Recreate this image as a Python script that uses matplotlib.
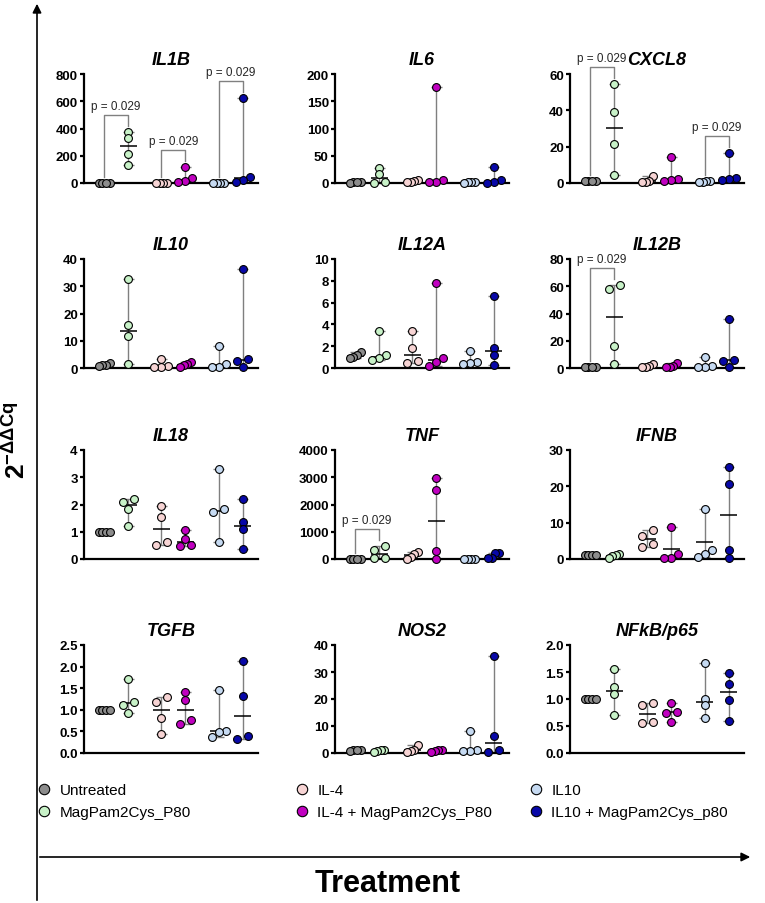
import numpy as np
import matplotlib
matplotlib.use("Agg")
import matplotlib.pyplot as plt
from matplotlib.lines import Line2D

plt.rcParams['font.family'] = ['Liberation Sans', 'DejaVu Sans']
plt.rcParams['mathtext.fontset'] = 'custom'
plt.rcParams['mathtext.rm'] = 'Liberation Sans'
plt.rcParams['mathtext.bf'] = 'Liberation Sans:bold'
plt.rcParams['mathtext.it'] = 'Liberation Sans:italic'

# groups and colours
groups = ["Untreated", "MagPam2Cys_P80", "IL-4", "IL-4 + MagPam2Cys_P80",
          "IL10", "IL10 + MagPam2Cys_p80"]
colors = ["#8c8c8c", "#c8f2c8", "#f7d4d4", "#c000c0", "#c6daf2", "#0808a8"]

genes = ["IL1B", "IL6", "CXCL8", "IL10", "IL12A", "IL12B",
         "IL18", "TNF", "IFNB", "TGFB", "NOS2", "NFkB/p65"]

# 2^-ddCq values, 4 replicates per group
il1b = [[1.2, 0.9, 1.0, 1.1], [372, 328, 213, 132], [2.5, 1.5, 1.2, 1.0],
        [115, 35, 15, 8], [2.0, 1.5, 1.0, 0.8], [623, 46, 22, 8]]
il6 = [[1.0, 1.1, 0.9, 1.0], [27, 16, 1.5, 0.8], [5, 3, 2, 1],
       [176, 5.5, 2.5, 1.5], [2.0, 1.5, 1.0, 0.8], [30, 6, 1.5, 0.5]]
cxcl8 = [[1.0, 1.1, 0.9, 1.0], [54.7, 39, 21.2, 4.4], [4.0, 1.2, 0.6, 0.4],
         [14.4, 2.0, 1.5, 1.2], [1.2, 1.0, 0.8, 0.5], [16.4, 2.5, 2.2, 1.8]]
il10 = [[1.7, 1.2, 1.0, 0.9], [32.6, 15.9, 11.6, 1.5], [3.3, 0.8, 0.5, 0.4],
        [2.2, 1.5, 1.0, 0.5], [8.0, 1.4, 0.5, 0.3], [36.2, 3.3, 2.5, 0.2]]
il12a = [[1.45, 1.2, 1.05, 0.95], [3.38, 1.16, 0.9, 0.76], [3.35, 1.86, 0.6, 0.43],
         [7.83, 0.94, 0.52, 0.18], [1.6, 0.55, 0.45, 0.35], [6.65, 1.86, 1.19, 0.24]]
il12b = [[1.0, 1.1, 0.9, 1.0], [60.7, 58.3, 16.1, 3.2], [3.0, 1.2, 0.8, 0.5],
         [3.4, 1.5, 1.0, 0.6], [8.0, 1.2, 1.0, 0.6], [36.1, 6.1, 5.0, 0.4]]
il18 = [[1.0, 1.0, 1.0, 1.0], [2.19, 2.1, 1.85, 1.2], [1.93, 1.55, 0.63, 0.51],
        [1.06, 0.74, 0.51, 0.49], [3.31, 1.82, 1.73, 0.63], [2.22, 1.35, 1.1, 0.35]]
tnf = [[1, 2, 1, 1], [470, 330, 40, 20], [250, 180, 80, 10],
       [2960, 2530, 280, 10], [5, 3, 2, 1], [215, 205, 40, 30]]
ifnb = [[1.0, 1.0, 1.0, 1.0], [1.4, 1.0, 0.9, 0.2], [7.9, 6.4, 4.1, 3.2],
        [8.8, 1.5, 0.3, 0.3], [13.8, 2.5, 1.45, 0.5], [25.2, 20.6, 2.45, 0.2]]
tgfb = [[1.0, 1.0, 1.0, 1.0], [1.71, 1.18, 1.12, 0.92], [1.29, 1.19, 0.81, 0.44],
        [1.41, 1.22, 0.76, 0.68], [1.45, 0.52, 0.48, 0.37], [2.14, 1.31, 0.4, 0.32]]
nos2 = [[1.0, 1.1, 0.9, 1.0], [1.2, 1.0, 0.8, 0.5], [3.0, 1.2, 0.8, 0.5],
        [1.1, 1.0, 0.8, 0.5], [8.0, 1.2, 0.9, 0.6], [36, 6.2, 1.0, 0.3]]
nfkb = [[1.0, 1.0, 1.0, 1.0], [1.55, 1.22, 1.09, 0.70], [0.92, 0.89, 0.57, 0.55],
        [0.93, 0.76, 0.75, 0.57], [1.66, 1.0, 0.88, 0.64], [1.48, 1.27, 0.98, 0.60]]
gene_data = [il1b, il6, cxcl8, il10, il12a, il12b, il18, tnf, ifnb, tgfb, nos2, nfkb]

# y axis max and tick step per panel
y_max = [800, 200, 60, 40, 10, 80, 4, 4000, 30, 2.5, 40, 2.0]
y_step = [200, 50, 20, 10, 2, 20, 1, 1000, 10, 0.5, 10, 0.5]
decimal_ticks = ["TGFB", "NFkB/p65"]
mean_line = ["IFNB"]   # this panel shows the mean, the others the median

# significant comparisons (group index pairs)
p_pairs = {"IL1B": [(0, 1), (2, 3), (4, 5)], "CXCL8": [(0, 1), (4, 5)],
           "IL12B": [(0, 1)], "TNF": [(0, 1)]}
p_text = "p = 0.029"

x_pos = [1, 2, 3.4, 4.4, 5.8, 6.8]

W, H = 765, 904
fig = plt.figure(figsize=(W / 100, H / 100), dpi=100)

col_left = [84, 335, 570]
col_w = 174
rows = [(75, 184), (260, 369), (451, 560), (646, 754)]


def swarm(ax, vals):
    # spread points that sit on top of each other, GraphPad style
    py = ax.transData.transform(np.column_stack([np.ones(len(vals)), vals]))[:, 1]
    order = np.argsort(py)
    clusters = []
    for i in order:
        if clusters and py[i] - py[clusters[-1][-1]] < 5.5:
            clusters[-1].append(i)
        else:
            clusters.append([i])
    off = np.zeros(len(vals))
    for c in clusters:
        n = len(c)
        step = {1: 0, 2: 11, 3: 7}.get(n, 3.6)
        for k, i in enumerate(c):
            off[i] = (k - (n - 1) / 2) * step
    return off


for gi, gene in enumerate(genes):
    r, c = divmod(gi, 3)
    top, bot = rows[r]
    ax = fig.add_axes([col_left[c] / W, 1 - bot / H, col_w / W, (bot - top) / H])
    ax.set_xlim(0.15, 7.45)
    ax.set_ylim(0, y_max[gi])
    ticks = np.arange(0, y_max[gi] + y_step[gi] / 2, y_step[gi])
    ax.set_yticks(ticks)
    if gene in decimal_ticks:
        ax.set_yticklabels([f"{t:.1f}" for t in ticks])
    else:
        ax.set_yticklabels([f"{t:.0f}" for t in ticks])
    ax.set_xticks([])
    for s in ["top", "right"]:
        ax.spines[s].set_visible(False)
    for s in ["left", "bottom"]:
        ax.spines[s].set_linewidth(1.6)
    ax.tick_params(axis="y", length=3, width=1.6, pad=1.5, labelsize=9.5)
    for lab in ax.get_yticklabels():
        lab.set_fontweight("bold")
    ax.set_title(gene, fontsize=13, fontweight="bold", fontstyle="italic", pad=7)

    ppx = ax.transData.transform((1, 0))[0] - ax.transData.transform((0, 0))[0]
    ppy = ax.transData.transform((0, 1))[1] - ax.transData.transform((0, 0))[1]

    data = gene_data[gi]
    for k, vals in enumerate(data):
        vals = np.array(vals, dtype=float)
        xc = x_pos[k]
        lo, hi = vals.min(), vals.max()
        mid = vals.mean() if gene in mean_line else np.median(vals)
        ax.vlines(xc, lo, hi, color="#7f7f7f", lw=1, zorder=1, clip_on=False)
        ax.hlines([lo, hi], xc - 5.5 / ppx, xc + 5.5 / ppx, color="#7f7f7f",
                  lw=1, zorder=1, clip_on=False)
        ax.hlines(mid, xc - 8.5 / ppx, xc + 8.5 / ppx, color="black", lw=1.1,
                  zorder=2, clip_on=False)
        off = swarm(ax, vals)
        ax.scatter(xc + off / ppx, vals, s=32, color=colors[k], edgecolor="black",
                   linewidth=0.8, zorder=3, clip_on=False)

    for (i, j) in p_pairs.get(gene, []):
        mi, mj = max(data[i]), max(data[j])
        yb = max(mi, mj) + 17 / ppy
        ax.plot([x_pos[i], x_pos[i], x_pos[j], x_pos[j]],
                [mi + 6 / ppy, yb, yb, mj + 6 / ppy],
                color="#808080", lw=1, clip_on=False)
        ax.text((x_pos[i] + x_pos[j]) / 2, yb + 3 / ppy, p_text, ha="center",
                va="bottom", fontsize=8.5, color="#262626")

# overlay for outer arrows and axis titles
bg = fig.add_axes([0, 0, 1, 1], zorder=-1)
bg.set_xlim(0, W)
bg.set_ylim(H, 0)
bg.axis("off")
bg.annotate("", xy=(37, 2), xytext=(37, H),
            arrowprops=dict(arrowstyle="-|>", color="black", lw=1.2, mutation_scale=13))
bg.annotate("", xy=(753, 858), xytext=(37, 858),
            arrowprops=dict(arrowstyle="-|>", color="black", lw=1.2, mutation_scale=13))
bg.text(17, 440, r"$\mathbf{2^{-ΔΔCq}}$", rotation=90, ha="center", va="center",
        fontsize=19)
bg.text(388, 884, "Treatment", ha="center", va="center", fontsize=22,
        fontweight="bold")

# legend, three columns of two entries
handles = [Line2D([], [], marker="o", linestyle="none", markersize=7.5,
                  markerfacecolor=col, markeredgecolor="black", markeredgewidth=0.8)
           for col in colors]
leg_x = [38, 296, 530]
for n in range(3):
    fig.legend(handles[2 * n:2 * n + 2], groups[2 * n:2 * n + 2],
               loc="upper left", bbox_to_anchor=(leg_x[n] / W, 1 - 784 / H),
               frameon=False, fontsize=11, handlelength=0.8, handletextpad=0.6,
               labelspacing=0.55, borderpad=0, borderaxespad=0)

fig.savefig("out.png", dpi=100)
